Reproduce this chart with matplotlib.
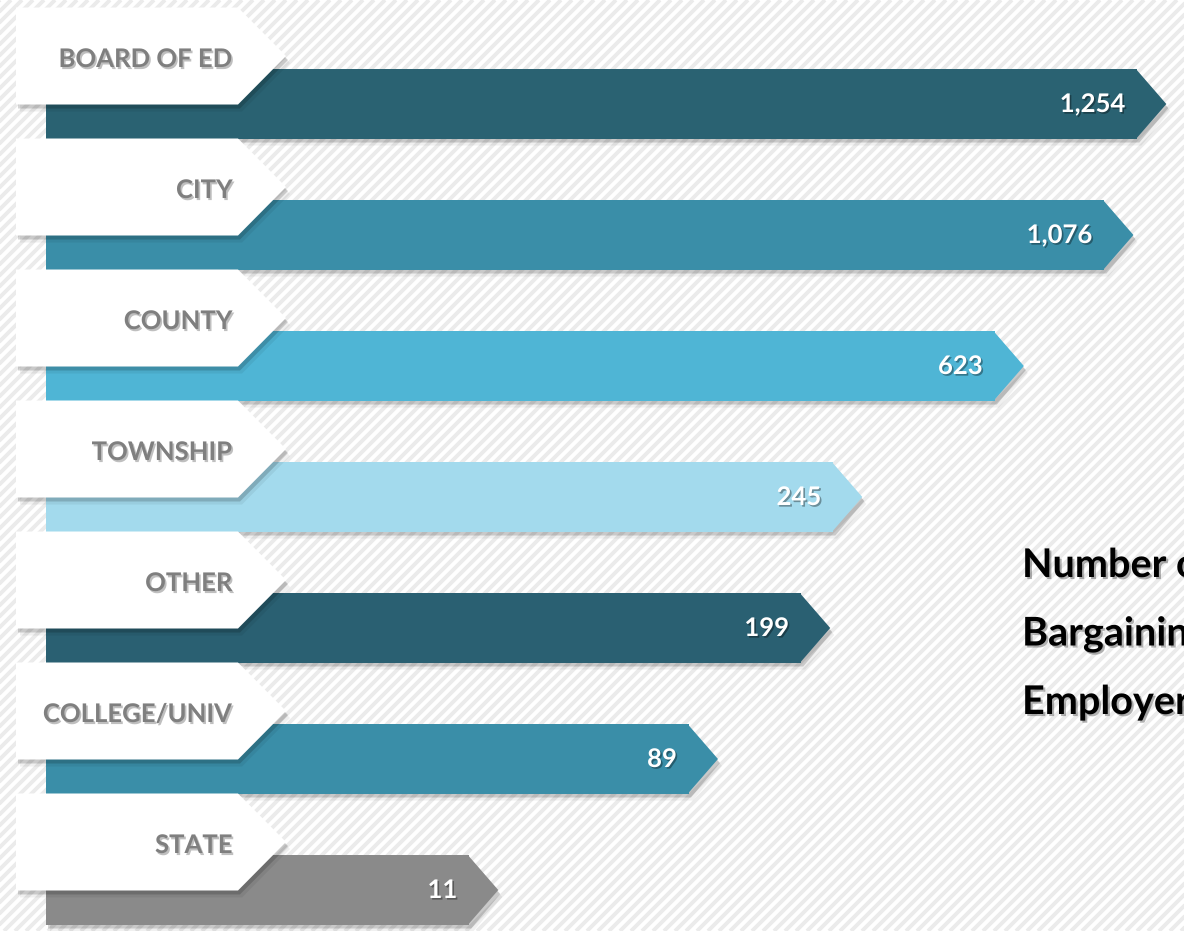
import numpy as np
import matplotlib
matplotlib.use('Agg')
import matplotlib.pyplot as plt
import matplotlib.patheffects as pe
from matplotlib.patches import Polygon
from matplotlib.collections import LineCollection
from matplotlib.transforms import IdentityTransform

# data
categories = ['BOARD OF ED', 'CITY', 'COUNTY', 'TOWNSHIP', 'OTHER', 'COLLEGE/UNIV', 'STATE']
counts = [1254, 1076, 623, 245, 199, 89, 11]
bar_colors = ['#2a6272', '#3a8ea8', '#4fb5d5', '#a3daed', '#2a6072', '#3a8ea8', '#8a8a8a']
title_lines = ['Number of', 'Bargaining', 'Employers']

W, H = 1184, 931
fig = plt.figure(figsize=(W / 100, H / 100), dpi=100)
fig.patch.set_facecolor('white')
ax = fig.add_axes([0, 0, 1, 1])
ax.axis('off')


# bars in the original are compressed, so a power scale on x
def fwd(x):
    return np.sign(x) * np.abs(x) ** 0.2


def inv(y):
    return np.sign(y) * np.abs(y) ** 5


ax.set_xscale('function', functions=(fwd, inv))
ax.set_xlim(inv(-46 / 262), inv((W - 46) / 262))
ax.set_ylim(6.313, -0.794)

ident = IdentityTransform()

# striped background
segs = [[(c, 0), (c + H, H)] for c in np.arange(-H, W + H, 11)]
ax.add_collection(LineCollection(segs, colors='#ebebeb', linewidths=2.8,
                                 transform=ident, zorder=0))

bar_h = 0.527
tip = 29
txt_shadow = [pe.SimplePatchShadow(offset=(1.2, -1.2), shadow_rgbFace='black', alpha=0.35),
              pe.Normal()]

for i, (name, v, c) in enumerate(zip(categories, counts, bar_colors)):
    x0, yc = ax.transData.transform((0, i))
    x1 = ax.transData.transform((v, i))[0]
    hh = abs(ax.transData.transform((0, i + bar_h / 2))[1] - yc)

    # bar shadow
    arrow = np.array([(x0, yc - hh), (x1, yc - hh), (x1 + tip, yc), (x1, yc + hh), (x0, yc + hh)])
    for off, a in [((2, -4), 0.16), ((4, -7), 0.06)]:
        ax.add_patch(Polygon(arrow + off, closed=True, color='black', alpha=a, lw=0,
                             transform=ident, zorder=1))

    # bar body + arrow tip
    ax.barh(i, v, height=bar_h, color=c, zorder=3)
    ax.add_patch(Polygon([(x1 - 1, yc + hh), (x1 + tip, yc), (x1 - 1, yc - hh)], closed=True,
                         color=c, lw=0, transform=ident, zorder=3))
    ax.text(x1 - 12, yc - 8, f'{v:,}', transform=ident, ha='right', va='baseline',
            color='white', fontsize=18.5, fontweight='bold', family='Lato', zorder=6,
            path_effects=txt_shadow)

    # white label tag
    ty = yc + 48
    tag = np.array([(16, ty - 48.5), (238, ty - 48.5), (286, ty), (238, ty + 48.5), (16, ty + 48.5)])
    for off, a in [((2, -4), 0.16), ((4, -7), 0.06)]:
        ax.add_patch(Polygon(tag + off, closed=True, color='black', alpha=a, lw=0,
                             transform=ident, zorder=4))
    ax.add_patch(Polygon(tag, closed=True, color='white', lw=0, transform=ident, zorder=5))
    ax.text(233, ty - 11, name, transform=ident, ha='right', va='baseline',
            color='#7f7f7f', fontsize=18.5, fontweight='bold', family='Lato', zorder=6,
            path_effects=[pe.SimplePatchShadow(offset=(1.2, -1.5), shadow_rgbFace='black', alpha=0.25),
                          pe.Normal()])

# title on the right (runs off the edge like the original)
for j, s in enumerate(title_lines):
    ax.text(1022, H - (577 + 68.5 * j), s, transform=ident, ha='left', va='baseline',
            color='black', fontsize=28.5, fontweight='bold', family='Lato', zorder=6,
            path_effects=[pe.SimplePatchShadow(offset=(1.5, -1.5), shadow_rgbFace='black', alpha=0.3),
                          pe.Normal()])

fig.savefig('out.png', dpi=100)
